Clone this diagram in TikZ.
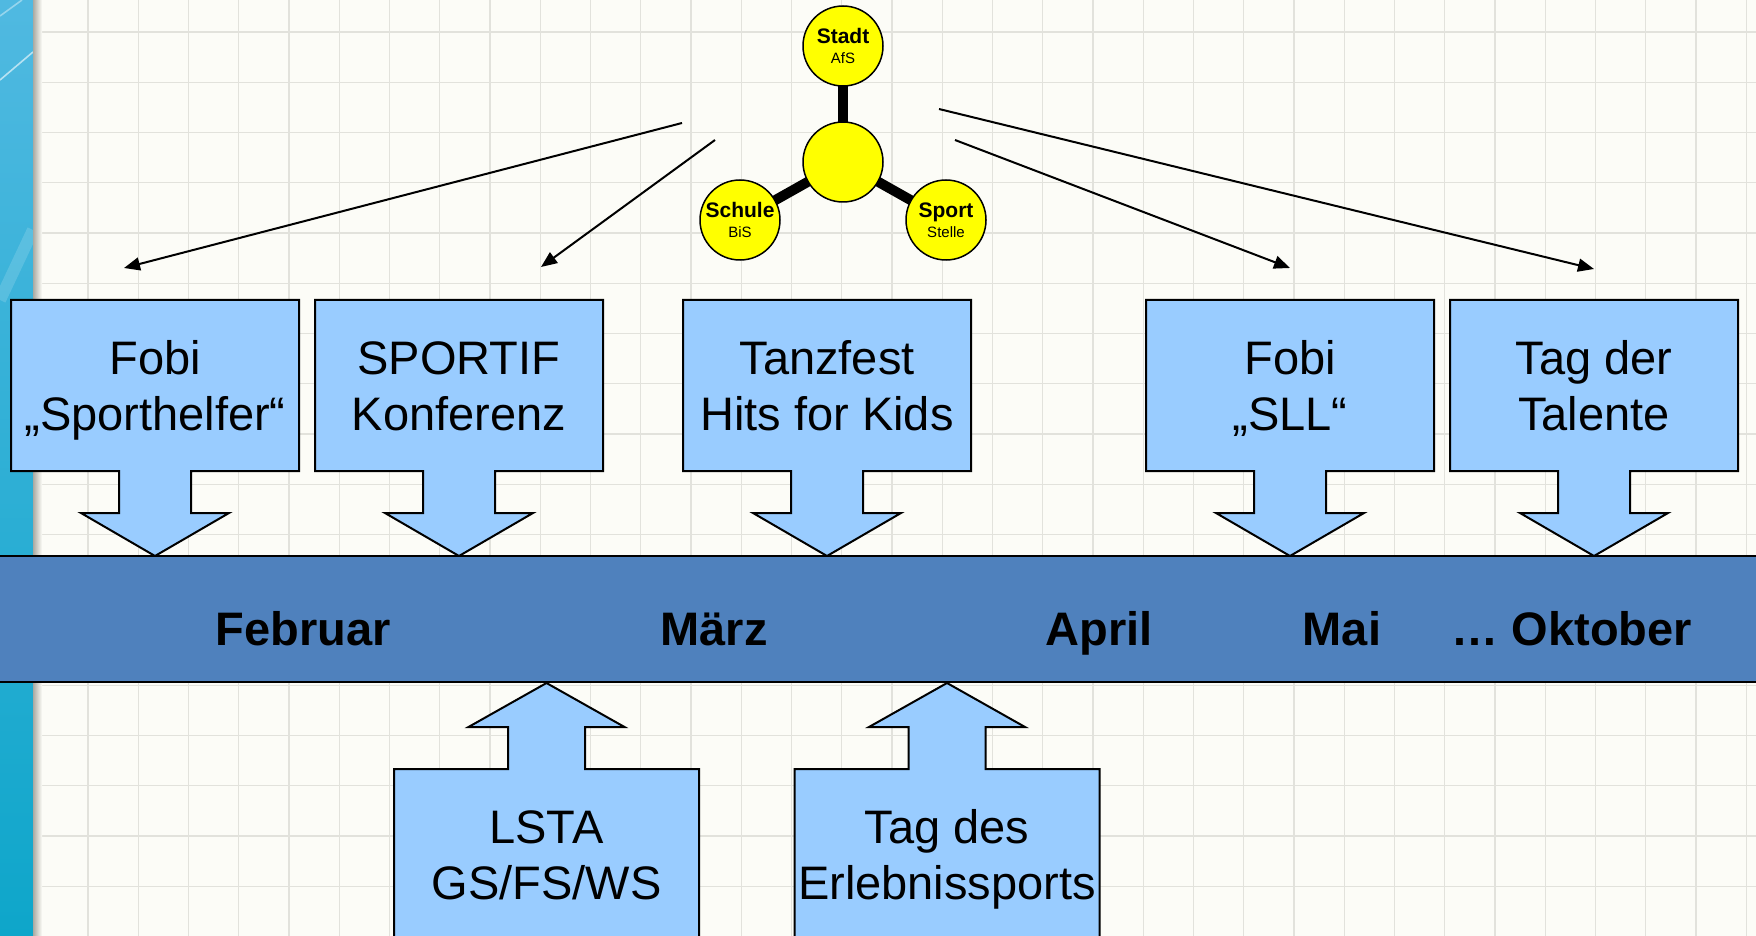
\documentclass[tikz,border=0pt]{standalone}
\usepackage{fontspec}
\setmainfont{Liberation Sans}
\usetikzlibrary{arrows.meta,calc}
\pgfdeclarelayer{bg}
\pgfdeclarelayer{shapes}
\pgfsetlayers{bg,shapes,main}
\definecolor{paper}{RGB}{252,252,247}
\definecolor{gridc}{RGB}{226,226,220}
\definecolor{boxblue}{RGB}{153,204,255}
\definecolor{bandblue}{RGB}{79,129,189}
\definecolor{stripetop}{RGB}{80,185,225}
\definecolor{stripemid}{RGB}{0,148,188}
\definecolor{stripebot}{RGB}{14,166,202}
\definecolor{shadowc}{RGB}{170,170,162}
\definecolor{hubyellow}{RGB}{255,255,0}

\newcommand\topstrut{\rule{0pt}{22.5pt}}
\newcommand\botstrut{\rule[-5.5pt]{0pt}{0pt}}

\newcommand\downcall[4]{%
  \node[callbox,minimum width=144pt] (#1) at (#2) {\topstrut#3\\#4\botstrut};
  \begin{pgfonlayer}{shapes}
  \draw[boxline] (#1.north west) -- (#1.north east) -- (#1.south east)
     -- ($(#1.south)+(36,0)$) -- ($(#1.south)+(36,42)$) -- ($(#1.south)+(74,42)$)
     -- ($(#1.south)+(0,85)$) -- ($(#1.south)+(-74,42)$) -- ($(#1.south)+(-36,42)$)
     -- ($(#1.south)+(-36,0)$) -- (#1.south west) -- cycle;
  \end{pgfonlayer}
}
\newcommand\upcall[4]{%
  \node[callbox,minimum width=152.5pt] (#1) at (#2) {\topstrut#3\\#4\botstrut};
  \begin{pgfonlayer}{shapes}
  \draw[boxline] (#1.south west) -- (#1.north west)
     -- ($(#1.north)+(-38.5,0)$) -- ($(#1.north)+(-38.5,-42)$) -- ($(#1.north)+(-78,-42)$)
     -- ($(#1.north)+(0,-86)$) -- ($(#1.north)+(78,-42)$) -- ($(#1.north)+(38.5,-42)$)
     -- ($(#1.north)+(38.5,0)$) -- (#1.north east) -- (#1.south east) -- cycle;
  \end{pgfonlayer}
}

\begin{document}
\begin{tikzpicture}[x=0.5pt,y=-0.5pt,
  gridline/.style={draw=gridc,line width=0.6pt},
  boxline/.style={draw=black,line width=1pt,fill=boxblue,line join=miter},
  callbox/.style={rectangle,minimum height=85.5pt,inner sep=0pt,outer sep=0pt,
    align=center,font=\fontsize{23.5}{28}\selectfont},
  bandbox/.style={rectangle,draw=black,line width=1pt,fill=bandblue,
    minimum width=900pt,minimum height=63pt,inner sep=0pt},
  monthtext/.style={anchor=base,inner sep=0pt,font=\fontsize{23.5}{28}\selectfont\bfseries},
  hubcircle/.style={circle,draw=black,line width=0.75pt,fill=hubyellow,
    minimum size=40pt,inner sep=0pt,align=center,font=\fontsize{7.5}{10}\selectfont},
  hublink/.style={draw=black,line width=5pt},
  pointer/.style={draw=black,line width=1pt,-{Triangle[length=8pt,width=6.5pt]}}
]
\useasboundingbox (0,0) rectangle (1756,936);

% background, grid, decorative stripe
\begin{pgfonlayer}{bg}
  \fill[paper] (0,0) rectangle (1756,936);
  \foreach \i in {0,...,33} \draw[gridline] (88+50.25*\i,0) -- (88+50.25*\i,936);
  \foreach \j in {0,...,17} \draw[gridline] (33,32+50.25*\j) -- (1756,32+50.25*\j);
  \shade[top color=stripetop,middle color=stripemid,bottom color=stripebot] (0,0) rectangle (33,936);
  \begin{scope}
    \clip (0,0) rectangle (33,936);
    \draw[white,opacity=0.6,line width=0.8pt] (0,80) -- (33,52);
    \draw[white,opacity=0.4,line width=0.8pt] (0,16) -- (22,0);
    \draw[white,opacity=0.15,line width=6pt] (0,300) -- (33,230);
  \end{scope}
  \shade[left color=shadowc,right color=paper] (33,0) rectangle (42,936);
\end{pgfonlayer}

% timeline band
\node[bandbox] (band) at (878,619) {};
\node[monthtext] (feb) at (303,645) {Februar};
\node[monthtext] (mar) at (714,645) {März};
\node[monthtext] (apr) at (1099,645) {April};
\node[monthtext] (mai) at (1342,645) {Mai};
\node[monthtext] (okt) at (1572,645) {… Oktober};

% callouts above the band
\downcall{fobi}{155,385.5}{Fobi}{„Sporthelfer“}
\downcall{sportif}{459,385.5}{SPORTIF}{Konferenz}
\downcall{tanz}{827,385.5}{Tanzfest}{Hits for Kids}
\downcall{sll}{1290,385.5}{Fobi}{„SLL“}
\downcall{talente}{1594,385.5}{Tag der}{Talente}

% callouts below the band
\upcall{lsta}{546.5,854.5}{LSTA}{GS/FS/WS}
\upcall{erleb}{947,854.5}{Tag des}{Erlebnissports}

% partner circles
\node[hubcircle] (hub) at (843,162) {};
\node[hubcircle] (stadt) at (843,46) {{\fontsize{10.5}{10}\selectfont\bfseries Stadt}\\AfS};
\node[hubcircle] (schule) at (740,220) {{\fontsize{10.5}{10}\selectfont\bfseries Schule}\\BiS};
\node[hubcircle] (sport) at (946,220) {{\fontsize{10.5}{10}\selectfont\bfseries Sport}\\Stelle};
\begin{pgfonlayer}{shapes}
  \draw[hublink] (hub.center) -- (stadt.center);
  \draw[hublink] (hub.center) -- (schule.center);
  \draw[hublink] (hub.center) -- (sport.center);
\end{pgfonlayer}

% pointers
\coordinate (p1s) at (682,123);  \coordinate (p1e) at (124,268);
\coordinate (p2s) at (715,140);  \coordinate (p2e) at (541,267);
\coordinate (p3s) at (955,140);  \coordinate (p3e) at (1290,268);
\coordinate (p4s) at (939,109);  \coordinate (p4e) at (1594,269);
\draw[pointer] (p1s) -- (p1e);
\draw[pointer] (p2s) -- (p2e);
\draw[pointer] (p3s) -- (p3e);
\draw[pointer] (p4s) -- (p4e);
\end{tikzpicture}
\end{document}
